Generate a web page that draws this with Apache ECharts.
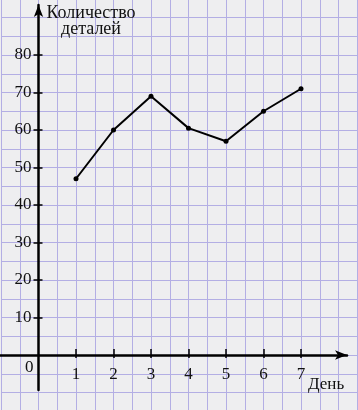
<!DOCTYPE html>
<html>
<head>
<meta charset="utf-8">
<script src="https://cdn.jsdelivr.net/npm/echarts@6/dist/echarts.min.js"></script>
<style>
html,body{margin:0;padding:0;background:#eeeef0;}
#c{width:358px;height:410px;}
</style>
</head>
<body>
<div id="c"></div>
<script>
var days = [1, 2, 3, 4, 5, 6, 7];
var parts = [47, 60, 69, 60.5, 57, 65, 71];
var yTicks = [10, 20, 30, 40, 50, 60, 70, 80];
var xTicks = [1, 2, 3, 4, 5, 6, 7];
var yTitle = 'Количество\nдеталей';
var xTitle = 'День';
var originLabel = '0';

var chart = echarts.init(document.getElementById('c'), null, {renderer: 'canvas'});
var serif = '"Liberation Serif", "DejaVu Serif", serif';
var gridColor = '#b3aee4';
var ox = 38.5, oy = 355, ux = 37.5, uy = 3.75;

chart.setOption({
  backgroundColor: '#eeeef0',
  animation: false,
  title: [
    {text: yTitle, left: 91, top: 5, padding: 0, textAlign: 'center',
     textStyle: {fontFamily: serif, fontSize: 18, fontWeight: 'normal', color: '#111', lineHeight: 16}},
    {text: xTitle, left: 308, top: 376, padding: 0,
     textStyle: {fontFamily: serif, fontSize: 17, fontWeight: 'normal', color: '#111'}},
    {text: originLabel, left: 25, top: 359, padding: 0,
     textStyle: {fontFamily: serif, fontSize: 17, fontWeight: 'normal', color: '#111'}}
  ],
  grid: [
    {left: 1, width: 356.25, top: -1.25, height: 412.5, containLabel: false, outerBoundsMode: 'none'},
    {left: 0, right: 11, top: 5, bottom: 20, containLabel: false, outerBoundsMode: 'none'},
    {left: ox, right: 11, top: 5, bottom: 410 - oy, containLabel: false, outerBoundsMode: 'none'}
  ],
  xAxis: [
    {gridIndex: 0, type: 'value', min: -1, max: 8.5, interval: 0.5,
     axisLine: {show: false}, axisTick: {show: false}, axisLabel: {show: false},
     splitLine: {show: true, lineStyle: {color: gridColor, width: 1}}},
    {gridIndex: 1, type: 'value', min: -ox / ux, max: (347 - ox) / ux,
     axisLine: {show: true, onZero: true, symbol: ['none', 'arrow'], symbolSize: [7, 12],
                lineStyle: {color: '#000', width: 2.5}},
     axisTick: {show: true, inside: true, length: 6, customValues: xTicks,
                lineStyle: {color: '#000', width: 1.5}},
     axisLabel: {show: false},
     splitLine: {show: false}},
    {gridIndex: 2, type: 'value', min: 0, max: (347 - ox) / ux,
     axisLine: {show: false, onZero: false},
     axisTick: {show: true, length: 3, customValues: xTicks,
                lineStyle: {color: '#000', width: 1.5}},
     axisLabel: {show: true, customValues: xTicks, margin: 11,
                 fontFamily: serif, fontSize: 17, color: '#111'},
     splitLine: {show: false}}
  ],
  yAxis: [
    {gridIndex: 0, type: 'value', min: -15, max: 95, interval: 5,
     axisLine: {show: false}, axisTick: {show: false}, axisLabel: {show: false},
     splitLine: {show: true, lineStyle: {color: gridColor, width: 1}}},
    {gridIndex: 1, type: 'value', min: (oy - 390) / uy, max: (oy - 5) / uy,
     axisLine: {show: true, onZero: true, symbol: ['none', 'arrow'], symbolSize: [7, 12],
                lineStyle: {color: '#000', width: 2.5}},
     axisTick: {show: true, inside: true, length: 4, customValues: yTicks,
                lineStyle: {color: '#000', width: 1.5}},
     axisLabel: {show: false},
     splitLine: {show: false}},
    {gridIndex: 2, type: 'value', min: 0, max: (oy - 5) / uy,
     axisLine: {show: false, onZero: false},
     axisTick: {show: true, length: 5, customValues: yTicks,
                lineStyle: {color: '#000', width: 1.5}},
     axisLabel: {show: true, customValues: yTicks, margin: 7,
                 fontFamily: serif, fontSize: 17, color: '#111'},
     splitLine: {show: false}}
  ],
  series: [{
    type: 'line',
    xAxisIndex: 2, yAxisIndex: 2,
    data: days.map(function (d, i) { return [d, parts[i]]; }),
    symbol: 'circle', symbolSize: 5,
    itemStyle: {color: '#000'},
    lineStyle: {color: '#000', width: 2}
  }]
});
</script>
</body>
</html>
